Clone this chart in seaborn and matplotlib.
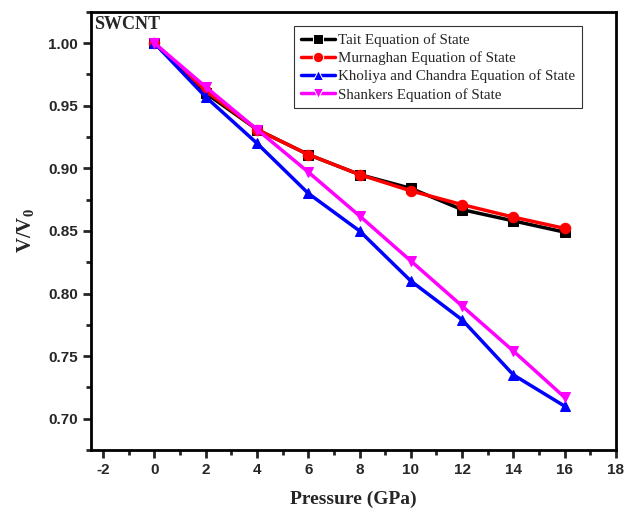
import matplotlib
matplotlib.use("Agg")
import matplotlib.pyplot as plt
import seaborn as sns
import pandas as pd
from matplotlib.ticker import MultipleLocator

pressure = [0, 2, 4, 6, 8, 10, 12, 14, 16]
tait = [1.000, 0.960, 0.931, 0.911, 0.895, 0.884, 0.867, 0.858, 0.849]
murnaghan = [1.000, 0.962, 0.931, 0.911, 0.895, 0.882, 0.871, 0.861, 0.852]
kholiya = [1.000, 0.957, 0.920, 0.880, 0.850, 0.810, 0.779, 0.735, 0.710]
shankers = [1.000, 0.965, 0.931, 0.897, 0.862, 0.826, 0.790, 0.754, 0.717]

names = ["Tait Equation of State", "Murnaghan Equation of State",
         "Kholiya and Chandra Equation of State", "Shankers Equation of State"]
colors = ["#000000", "#ff0000", "#0000ff", "#ff00ff"]
markers = ["s", "o", "^", "v"]

rows = []
for n, vals in zip(names, [tait, murnaghan, kholiya, shankers]):
    for p, v in zip(pressure, vals):
        rows.append({"Pressure": p, "V": v, "Series": n})
df = pd.DataFrame(rows)

sns.set_style("ticks")
plt.rcParams["mathtext.fontset"] = "custom"
plt.rcParams["mathtext.rm"] = "Liberation Serif:bold"
plt.rcParams["mathtext.bf"] = "Liberation Serif:bold"
plt.rcParams["axes.unicode_minus"] = False

fig = plt.figure(figsize=(6.37, 5.14), dpi=100)
ax = fig.add_axes([0.143, 0.1245, 0.824, 0.8525])

sns.lineplot(data=df, x="Pressure", y="V", hue="Series", style="Series",
             hue_order=names, style_order=names,
             palette=dict(zip(names, colors)), markers=dict(zip(names, markers)),
             dashes=False, linewidth=2.5, markersize=7.5,
             ax=ax, legend=True)
for line, c in zip(ax.lines, colors):
    line.set_markeredgecolor(c)

ax.set_xlim(-2.47, 18)
ax.xaxis.set_major_locator(MultipleLocator(2))
ax.xaxis.set_minor_locator(MultipleLocator(1))
ax.yaxis.set_minor_locator(MultipleLocator(0.025))
yt = [0.70, 0.75, 0.80, 0.85, 0.90, 0.95, 1.00]
ax.set_yticks(yt)
ax.set_yticklabels([f"{v:.2f}" for v in yt])
ax.set_ylim(0.675, 1.025)

for s in ax.spines.values():
    s.set_linewidth(2)
    s.set_color("black")
ax.tick_params(which="major", direction="out", length=6, width=2,
               labelsize=11, top=False, right=False)
ax.tick_params(which="minor", direction="out", length=3.5, width=2,
               top=False, right=False)
for lab in ax.get_xticklabels() + ax.get_yticklabels():
    lab.set_fontfamily("Liberation Sans")
    lab.set_fontweight("bold")

ax.set_xlabel("Pressure (GPa)", fontfamily="Liberation Serif",
              fontweight="bold", fontsize=14, labelpad=10)
ax.set_ylabel(r"V/V$_{\mathbf{0}}$", fontfamily="Liberation Serif",
              fontweight="bold", fontsize=15, labelpad=8)

ax.text(0.005, 0.99, "SWCNT", transform=ax.transAxes, ha="left", va="top",
        fontfamily="Liberation Serif", fontweight="bold", fontsize=13)

leg = ax.legend(loc="upper right", bbox_to_anchor=(0.95, 0.984),
                prop={"family": "Liberation Serif", "size": 10.8},
                frameon=True, fancybox=False, edgecolor="black",
                handlelength=2.3, handletextpad=0.2, borderpad=0.45,
                labelspacing=0.3)
leg.get_frame().set_linewidth(0.8)
for h in leg.legend_handles:
    h.set_markersize(7.5)

fig.savefig("out.png", dpi=100)
